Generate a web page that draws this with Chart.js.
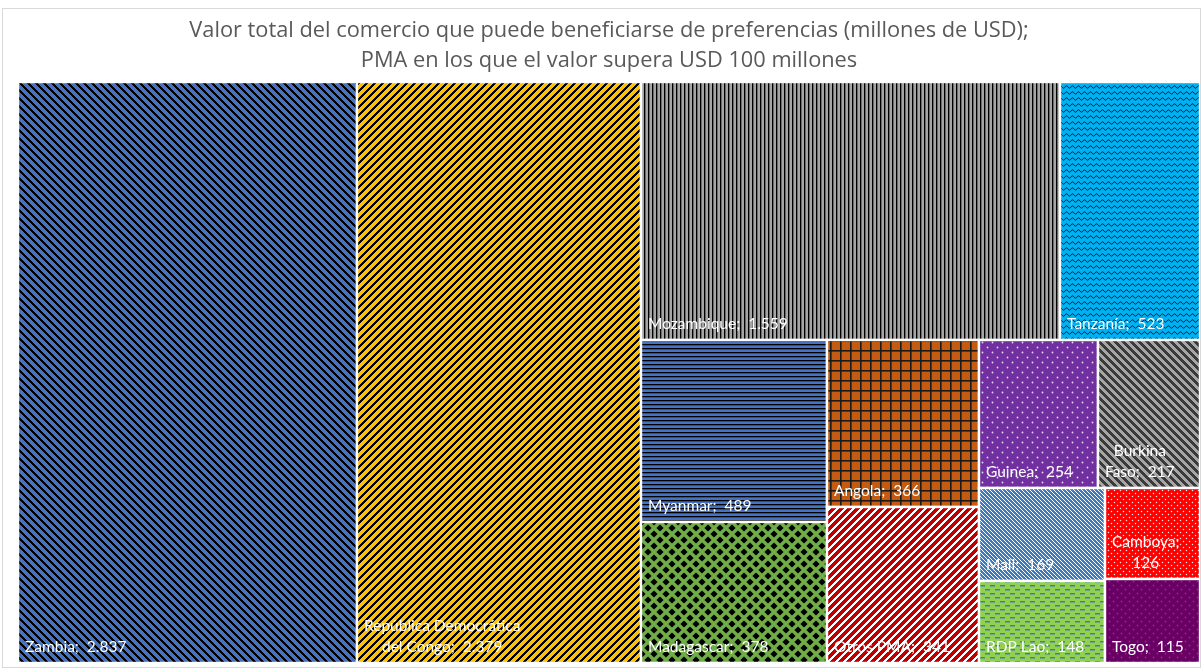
<!DOCTYPE html>
<html>
<head>
<meta charset="utf-8">
<script src="https://cdn.jsdelivr.net/npm/chart.js@4.4.0/dist/chart.umd.min.js"></script>
<style>
  html, body { margin: 0; padding: 0; background: #ffffff; }
  #wrap { position: relative; width: 1203px; height: 669px; }
  canvas { display: block; }
</style>
</head>
<body>
<div id="wrap"><canvas id="c" width="1203" height="669"></canvas></div>
<script>
// ---- DATA ----
const categories = ["Zambia", "República Democrática del Congo", "Mozambique", "Tanzanía", "Myanmar",
  "Madagascar", "Angola", "Otros PMA", "Guinea", "Burkina Faso", "Mali", "RDP Lao", "Camboya", "Togo"];
const values = [2837, 2379, 1559, 523, 489, 378, 366, 341, 254, 217, 169, 148, 126, 115];
const titleLines = ["Valor total del comercio que puede beneficiarse de preferencias (millones de USD);",
  "PMA en los que el valor supera USD 100 millones"];

// ---- STYLES (pattern per category) ----
function tile(w, h, bg, draw) {
  const c = document.createElement('canvas');
  c.width = w; c.height = h;
  const g = c.getContext('2d');
  g.fillStyle = bg; g.fillRect(0, 0, w, h);
  draw(g, w, h);
  return c;
}
function diag(n, t, bg, fg, dir) {
  return tile(n, n, bg, (g) => {
    g.fillStyle = fg;
    for (let y = 0; y < n; y++) for (let x = 0; x < n; x++) {
      const v = dir === 'down' ? ((x - y) % n + n) % n : (x + y) % n;
      if (v < t) g.fillRect(x, y, 1, 1);
    }
  });
}
function dots(w, h, bg, fg, pts, r) {
  return tile(w, h, bg, (g) => {
    g.fillStyle = fg;
    pts.forEach(p => { g.beginPath(); g.arc(p[0], p[1], r, 0, Math.PI * 2); g.fill(); });
  });
}
const tiles = [
  diag(8, 3, '#4472C4', '#000000', 'down'),                       // Zambia
  diag(8, 3, '#FFC000', '#000000', 'up'),                         // RDC
  tile(4, 4, '#A5A5A5', (g) => { g.fillStyle = '#000'; g.fillRect(0, 0, 1, 4); g.fillStyle = '#6a6a6a'; g.fillRect(1, 0, 1, 4); }), // Mozambique
  tile(6, 6, '#00B0F0', (g) => { g.strokeStyle = '#000'; g.lineWidth = 0.9; g.beginPath();
      for (let x = -1; x <= 7; x += 0.5) { const y = 3 + 1.2 * Math.sin((x / 6) * Math.PI * 2); if (x === -1) g.moveTo(x, y); else g.lineTo(x, y); }
      g.stroke(); }),                                              // Tanzania
  tile(4, 4, '#4472C4', (g) => { g.fillStyle = '#000'; g.fillRect(0, 0, 4, 1); g.fillStyle = 'rgba(0,0,0,0.3)'; g.fillRect(0, 1, 4, 1); }), // Myanmar
  tile(12, 12, '#70AD47', (g) => { g.fillStyle = '#000';
      const d = (cx, cy, r) => { g.beginPath(); g.moveTo(cx, cy - r); g.lineTo(cx + r, cy); g.lineTo(cx, cy + r); g.lineTo(cx - r, cy); g.closePath(); g.fill(); };
      const r = 3.6;
      d(6, 6, r); d(0, 0, r); d(12, 0, r); d(0, 12, r); d(12, 12, r); }), // Madagascar
  tile(10, 10, '#C55A11', (g) => { g.fillStyle = '#1a1a1a'; g.fillRect(0, 0, 10, 1.6); g.fillRect(0, 0, 1.6, 10); }), // Angola
  diag(8, 3, '#C00000', '#FFFFFF', 'up'),                         // Otros PMA
  dots(10, 10, '#7030A0', '#E6D8F0', [[2.5, 2.5], [7.5, 7.5]], 0.9), // Guinea
  diag(8, 4, '#3A3A3A', '#A6A6A6', 'down'),                        // Burkina Faso
  diag(4, 1, '#3B7CC0', '#FFFFFF', 'down'),                        // Mali
  tile(10, 8, '#92D050', (g) => { g.fillStyle = '#3E7CB8'; g.fillRect(0, 1, 5, 1.5); g.fillRect(5, 5, 5, 1.5); }), // RDP Lao
  dots(6, 6, '#FF0000', '#FFE0E0', [[1.5, 1.5], [4.5, 4.5]], 0.75), // Camboya
  dots(8, 8, '#660066', '#E0103A', [[1.5, 1.5], [5.5, 5.5]], 0.9)  // Togo
];

function fmt(v) { return String(v).replace(/\B(?=(\d{3})+(?!\d))/g, '.'); }

// squarified layout (in pixel-proportional units), returns rects per index
function squarify(vals, W, H) {
  const total = vals.reduce((a, b) => a + b, 0);
  const areas = vals.map(v => v * W * H / total);
  const out = [];
  let x = 0, y = 0, w = W, h = H, i = 0;
  const worst = (idx, s) => {
    const sum = idx.reduce((a, k) => a + areas[k], 0);
    const t = sum / s;
    let m = 0;
    idx.forEach(k => { const l = areas[k] / t; m = Math.max(m, t / l, l / t); });
    return m;
  };
  while (i < areas.length) {
    const s = Math.min(w, h);
    const row = [i];
    let wPrev = worst(row, s);
    let j = i + 1;
    while (j < areas.length) {
      const wn = worst(row.concat(j), s);
      if (wn < wPrev * 0.98) { row.push(j); wPrev = wn; j++; } else break;
    }
    const sum = row.reduce((a, k) => a + areas[k], 0);
    const t = sum / s;
    if (w >= h) {
      let yy = y;
      row.forEach(k => { const hh = areas[k] / t; out[k] = { x0: x, y0: yy, x1: x + t, y1: yy + hh }; yy += hh; });
      x += t; w -= t;
    } else {
      let xx = x;
      row.forEach(k => { const ww = areas[k] / t; out[k] = { x0: xx, y0: y, x1: xx + ww, y1: y + t }; xx += ww; });
      y += t; h -= t;
    }
    i = j;
  }
  return out;
}

function wrapBalanced(ctx, text, maxW) {
  if (ctx.measureText(text).width <= maxW) return [text];
  const words = text.split(' ');
  let best = null, bestW = Infinity;
  for (let k = 1; k < words.length; k++) {
    const a = words.slice(0, k).join(' ').trim(), b = words.slice(k).join(' ').trim();
    if (!a || !b) continue;
    const mw = Math.max(ctx.measureText(a).width, ctx.measureText(b).width);
    if (mw < bestW) { bestW = mw; best = [a, b]; }
  }
  return best;
}

const treemapPlugin = {
  id: 'treemapCells',
  afterDatasetsDraw(chart) {
    const ctx = chart.ctx, xs = chart.scales.x, ys = chart.scales.y, ca = chart.chartArea;
    const W = ca.right - ca.left, H = ca.bottom - ca.top;
    const rects = squarify(values, W, H);
    ctx.save();
    rects.forEach((r, k) => {
      const px0 = Math.round(xs.getPixelForValue(r.x0 / W));
      const px1 = Math.round(xs.getPixelForValue(r.x1 / W));
      const py0 = Math.round(ys.getPixelForValue(r.y0 / H));
      const py1 = Math.round(ys.getPixelForValue(r.y1 / H));
      ctx.fillStyle = ctx.createPattern(tiles[k], 'repeat');
      ctx.fillRect(px0, py0, px1 - px0, py1 - py0);
      ctx.strokeStyle = '#FFFFFF';
      ctx.lineWidth = 2.4;
      ctx.strokeRect(px0, py0, px1 - px0, py1 - py0);
      r.px = { x0: px0, y0: py0, x1: px1, y1: py1 };
    });
    ctx.font = '15.5px Lato, "Open Sans", sans-serif';
    ctx.fillStyle = '#FFFFFF';
    ctx.textBaseline = 'alphabetic';
    rects.forEach((r, k) => {
      const p = r.px;
      const label = categories[k] + ';  ' + fmt(values[k]);
      const lines = wrapBalanced(ctx, label, (p.x1 - p.x0) - 14);
      const blockW = Math.max(...lines.map(l => ctx.measureText(l).width));
      const left = p.x0 + 7;
      lines.forEach((l, li) => {
        const lw = ctx.measureText(l).width;
        const base = p.y1 - 11 - (lines.length - 1 - li) * 21;
        ctx.fillText(l, left + (blockW - lw) / 2, base);
      });
    });
    // outer chart border
    ctx.strokeStyle = '#D9D9D9';
    ctx.lineWidth = 1;
    ctx.strokeRect(2.5, 8.5, 1198, 659);
    ctx.restore();
  }
};

new Chart(document.getElementById('c'), {
  type: 'scatter',
  data: { datasets: [{ data: [], pointRadius: 0 }] },
  options: {
    responsive: false,
    animation: false,
    layout: { padding: { left: 18, right: 3, top: 0, bottom: 6 } },
    scales: {
      x: { type: 'linear', min: 0, max: 1, display: false },
      y: { type: 'linear', min: 0, max: 1, reverse: true, display: false }
    },
    plugins: {
      legend: { display: false },
      tooltip: { enabled: false },
      title: {
        display: true,
        text: titleLines,
        color: '#595959',
        font: { family: '"Open Sans", Lato, sans-serif', size: 21.8, weight: 'normal', lineHeight: 1.37 },
        padding: { top: 16, bottom: 6 }
      }
    }
  },
  plugins: [treemapPlugin]
});
</script>
</body>
</html>
